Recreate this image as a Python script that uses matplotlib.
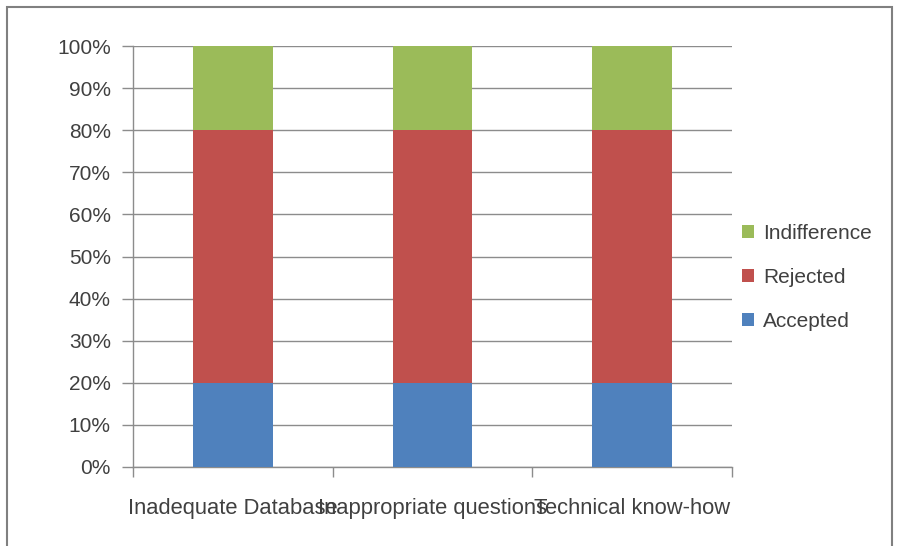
import numpy as np
import matplotlib.pyplot as plt
from matplotlib.patches import Rectangle

plt.rcParams['font.family'] = ['Liberation Sans Narrow', 'Liberation Sans', 'DejaVu Sans']

categories = ['Inadequate Database', 'Inappropriate questions', 'Technical know-how']
accepted = [20, 20, 20]
rejected = [60, 60, 60]
indifference = [20, 20, 20]
yticks = [0, 10, 20, 30, 40, 50, 60, 70, 80, 90, 100]

blue = '#4F81BD'
red = '#C0504D'
green = '#9BBB59'
gray = '#8C8C8C'

fig = plt.figure(figsize=(8.98, 5.46), dpi=100)
fig.patches.append(Rectangle((7 / 898, -0.01), 885 / 898, 1 - 7 / 546 + 0.01,
                             transform=fig.transFigure, fill=False,
                             edgecolor='#808080', linewidth=1.5))
ax = fig.add_axes([133 / 898, 1 - 467 / 546, (732 - 133) / 898, (467 - 46) / 546])

x = np.arange(len(categories))
w = 0.4
acc = np.array(accepted)
rej = np.array(rejected)
ind = np.array(indifference)
ax.bar(x, acc, w, color=blue, label='Accepted', zorder=3)
ax.bar(x, rej, w, bottom=acc, color=red, label='Rejected', zorder=3)
ax.bar(x, ind, w, bottom=acc + rej, color=green, label='Indifference', zorder=3)

ax.set_xlim(-0.5, 2.5)
ax.set_ylim(0, 100)
ax.set_yticks(yticks)
ax.set_yticklabels([f'{v}%' for v in yticks])
ax.yaxis.grid(True, color=gray, linewidth=1, zorder=0)
ax.set_xticks(x)
ax.set_xticklabels(categories)
ax.set_xticks([-0.5, 0.5, 1.5, 2.5], minor=True)
ax.tick_params(axis='x', which='major', length=0, pad=22, labelsize=15.8, labelcolor='#404040')
ax.tick_params(axis='x', which='minor', length=7, color=gray, width=1)
ax.tick_params(axis='y', length=8, color=gray, width=1, labelsize=15, labelcolor='#404040', pad=8)

for s in ['top', 'right']:
    ax.spines[s].set_visible(False)
for s in ['left', 'bottom']:
    ax.spines[s].set_color(gray)
    ax.spines[s].set_linewidth(1)

h, l = ax.get_legend_handles_labels()
ax.legend(h[::-1], l[::-1], loc='center left', bbox_to_anchor=(1.0, 0.451), frameon=False,
          fontsize=15, handlelength=0.55, handleheight=0.55, handletextpad=0.45,
          labelspacing=1.2, labelcolor='#404040', borderpad=0)

fig.savefig('out.png', dpi=100)
